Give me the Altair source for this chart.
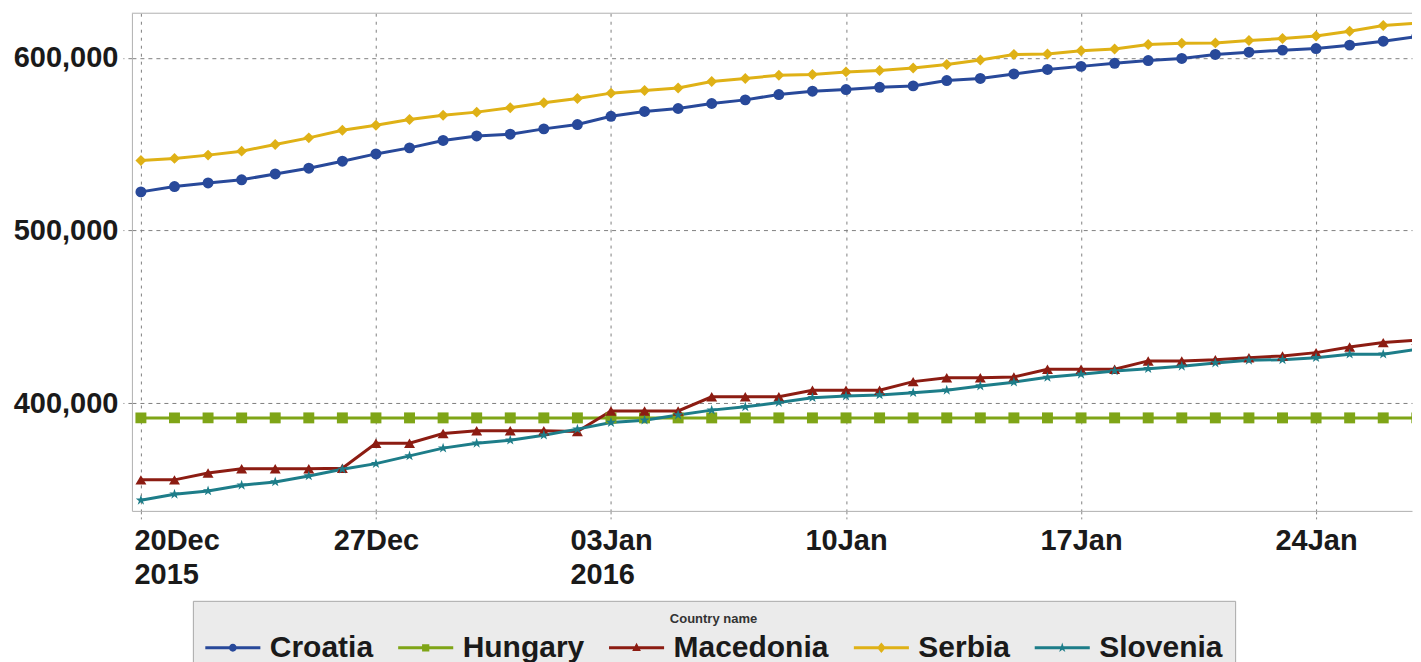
import altair as alt
import pandas as pd

# ---------------- data ----------------
dates = pd.date_range("2015-12-20", "2016-01-27", freq="D").strftime("%Y-%m-%d").tolist()

countries = ["Croatia", "Hungary", "Macedonia", "Serbia", "Slovenia"]

croatia = [522400, 525500, 527600, 529400, 532800, 536100, 540200, 544400, 547900, 552200,
           554800, 555800, 558900, 561400, 566200, 569000, 570700, 573600, 575700, 578800,
           580700, 581700, 583000, 583800, 586900, 588100, 590700, 593300, 595100, 596900,
           598500, 599700, 602000, 603300, 604500, 605400, 607400, 609700, 612400]

hungary = [391500, 391500, 391500, 391500, 391500, 391500, 391500, 391500, 391500, 391500,
           391500, 391500, 391500, 391500, 391500, 391500, 391500, 391500, 391500, 391500,
           391500, 391500, 391500, 391500, 391500, 391500, 391500, 391500, 391500, 391500,
           391500, 391500, 391500, 391500, 391500, 391500, 391500, 391500, 391500]

macedonia = [355600, 355600, 359600, 362100, 362100, 362100, 362300, 376800, 376800, 382400,
             384100, 384100, 384100, 383600, 395500, 395500, 395500, 403700, 403700, 403700,
             407500, 407500, 407500, 412500, 414800, 414800, 415200, 419700, 419700, 419700,
             424500, 424500, 425200, 426400, 427400, 429300, 432600, 435100, 436500]

serbia = [540600, 541800, 543700, 546000, 549900, 553700, 558100, 561000, 564300, 566800,
          568600, 571100, 574000, 576500, 579600, 581100, 582600, 586300, 588100, 590000,
          590400, 591900, 592700, 594200, 596200, 598800, 602000, 602300, 604100, 605200,
          607800, 608500, 608700, 610100, 611200, 612700, 615500, 618800, 620100]

slovenia = [343800, 347300, 349200, 352500, 354400, 357900, 361800, 365000, 369500, 374000,
            376800, 378600, 381500, 385000, 388800, 390200, 393200, 396000, 397900, 400400,
            403200, 404200, 404800, 406100, 407500, 410000, 412200, 415000, 416800, 418700,
            420000, 421400, 423300, 424900, 425200, 426400, 428400, 428400, 431300]

y_ticks = [400000, 500000, 600000]

series = {"Croatia": croatia, "Hungary": hungary, "Macedonia": macedonia,
          "Serbia": serbia, "Slovenia": slovenia}

rows = []
for c in countries:
    for d, v in zip(dates, series[c]):
        rows.append({"date": d, "country": c, "value": v})
df = pd.DataFrame(rows)

# ---------------- style ----------------
FONT = "Liberation Sans, Arial, sans-serif"
BORDER = "#b0b0b0"
colors = ["#28499a", "#7fa517", "#8c1c12", "#dfb116", "#1d7d89"]

STAR = ("M0,-1L0.2245,-0.309L0.951,-0.309L0.363,0.118L0.588,0.809L0,0.382"
        "L-0.588,0.809L-0.363,0.118L-0.951,-0.309L-0.2245,-0.309Z")
marker_shapes = ["circle", "square", "triangle-up", "diamond", STAR]

# legend symbols: a line with the marker on it (unit = 14.5 px)
LINE = "M-1.9,-0.1H1.9V0.1H-1.9Z"
leg_circle = LINE + "M0.27,0A0.27,0.27,0,1,1,-0.27,0A0.27,0.27,0,1,1,0.27,0Z"
leg_square = LINE + "M-0.25,-0.25H0.25V0.25H-0.25Z"
leg_tri = LINE + "M0,-0.34L0.3,0.22H-0.3Z"
leg_diamond = LINE + "M0,-0.36L0.3,0L0,0.36L-0.3,0Z"
leg_star = LINE + ("M0,-0.36L0.081,-0.111L0.342,-0.111L0.131,0.042L0.212,0.291L0,0.138"
                   "L-0.212,0.291L-0.131,0.042L-0.342,-0.111L-0.081,-0.111Z")
legend_shapes = [leg_circle, leg_square, leg_tri, leg_diamond, leg_star]

x_scale = alt.Scale(
    type="utc", nice=False,
    domain=[alt.DateTime(year=2015, month=12, date=19, hours=17, minutes=34, utc=True),
            alt.DateTime(year=2016, month=1, date=26, hours=20, minutes=34, utc=True)])
y_scale = alt.Scale(domain=[337640, 625880], nice=False, zero=False)

tick_dates = [alt.DateTime(year=2015, month=12, date=20, utc=True),
              alt.DateTime(year=2015, month=12, date=27, utc=True),
              alt.DateTime(year=2016, month=1, date=3, utc=True),
              alt.DateTime(year=2016, month=1, date=10, utc=True),
              alt.DateTime(year=2016, month=1, date=17, utc=True),
              alt.DateTime(year=2016, month=1, date=24, utc=True)]

label_expr = ("[utcFormat(datum.value, '%d%b'), "
              "utcFormat(datum.value, '%d%b') == '20Dec' ? '2015' : "
              "(utcFormat(datum.value, '%d%b') == '03Jan' ? '2016' : '')]")

# labels that carry a year are left-aligned blocks
YEAR_TEST = "utcdate(datum.value) == 20 || utcdate(datum.value) == 3"
label_align = {"condition": {"test": YEAR_TEST, "value": "left"}, "value": "center"}
label_offset = {"condition": [{"test": "utcdate(datum.value) == 3", "value": -41},
                              {"test": "utcdate(datum.value) == 20", "value": -7}],
                "value": 0}

x_axis = alt.Axis(values=tick_dates, labelExpr=label_expr, title=None,
                  labelFont=FONT, labelFontSize=29, labelFontWeight="bold",
                  labelColor="#1a1a1a", labelBaseline="top", labelPadding=8,
                  labelLineHeight=34, labelAlign=label_align, labelOffset=label_offset,
                  labelOverlap=False, tickSize=8, tickColor="#888888",
                  tickDash=[3, 3], grid=True, gridColor="#808080",
                  gridDash=[3, 5], gridWidth=1,
                  domain=True, domainColor=BORDER, domainWidth=1)

y_axis = alt.Axis(values=y_ticks, format=",d", title=None,
                  labelFont=FONT, labelFontSize=29, labelFontWeight="bold",
                  labelColor="#1a1a1a", labelPadding=5,
                  tickSize=9, tickColor="#808080", tickDash=[4, 4],
                  grid=True, gridColor="#808080", gridDash=[4, 4], gridWidth=1,
                  domain=True, domainColor=BORDER, domainWidth=1,
                  minExtent=124, maxExtent=124)

legend = alt.Legend(title="Country name", orient="none", legendX=61, legendY=588,
                    direction="horizontal", columns=5, titleAnchor="middle",
                    titleFont=FONT, titleFontSize=13, titleFontWeight="bold",
                    titleColor="#333333", titlePadding=7,
                    labelFont=FONT, labelFontSize=30, labelFontWeight="bold",
                    labelColor="#1a1a1a", labelLimit=0, labelOffset=22,
                    symbolSize=841, symbolOffset=13, symbolStrokeWidth=0,
                    symbolOpacity=1, columnPadding=24, padding=12,
                    fillColor="#ebebeb", strokeColor="#a8a8a8")

color_scale = alt.Scale(domain=countries, range=colors)

base = alt.Chart(df)

lines = base.mark_line(strokeWidth=3, clip=True).encode(
    x=alt.X("date:T", scale=x_scale, axis=x_axis),
    y=alt.Y("value:Q", scale=y_scale, axis=y_axis),
    color=alt.Color("country:N", scale=color_scale, legend=None),
)

points = base.mark_point(filled=True, size=120, opacity=1, clip=True).encode(
    x=alt.X("date:T"),
    y=alt.Y("value:Q"),
    color=alt.Color("country:N", scale=color_scale, legend=None),
    shape=alt.Shape("country:N", scale=alt.Scale(domain=countries, range=marker_shapes),
                    legend=None),
)

legend_layer = base.mark_point(filled=True, clip=True).encode(
    x=alt.X("date:T"),
    y=alt.Y("value:Q"),
    color=alt.Color("country:N", scale=color_scale, legend=legend),
    shape=alt.Shape("country:N", scale=alt.Scale(domain=countries, range=legend_shapes),
                    legend=legend),
    opacity=alt.value(0),
)

# top frame line of the plot area (the right side runs off the picture)
top_frame = alt.Chart(pd.DataFrame({"frame": [0]})).mark_rule(
    color=BORDER, strokeWidth=1
).encode(y=alt.value(0))

chart = alt.layer(lines, points, legend_layer, top_frame).resolve_scale(
    color="independent", shape="independent"
).properties(
    width=1281, height=498,
    padding={"left": 0, "top": 4, "right": 0, "bottom": 0},
    background="white",
).configure_view(stroke=None)

chart.save("out.html", embed_options={"renderer": "svg", "actions": False})
